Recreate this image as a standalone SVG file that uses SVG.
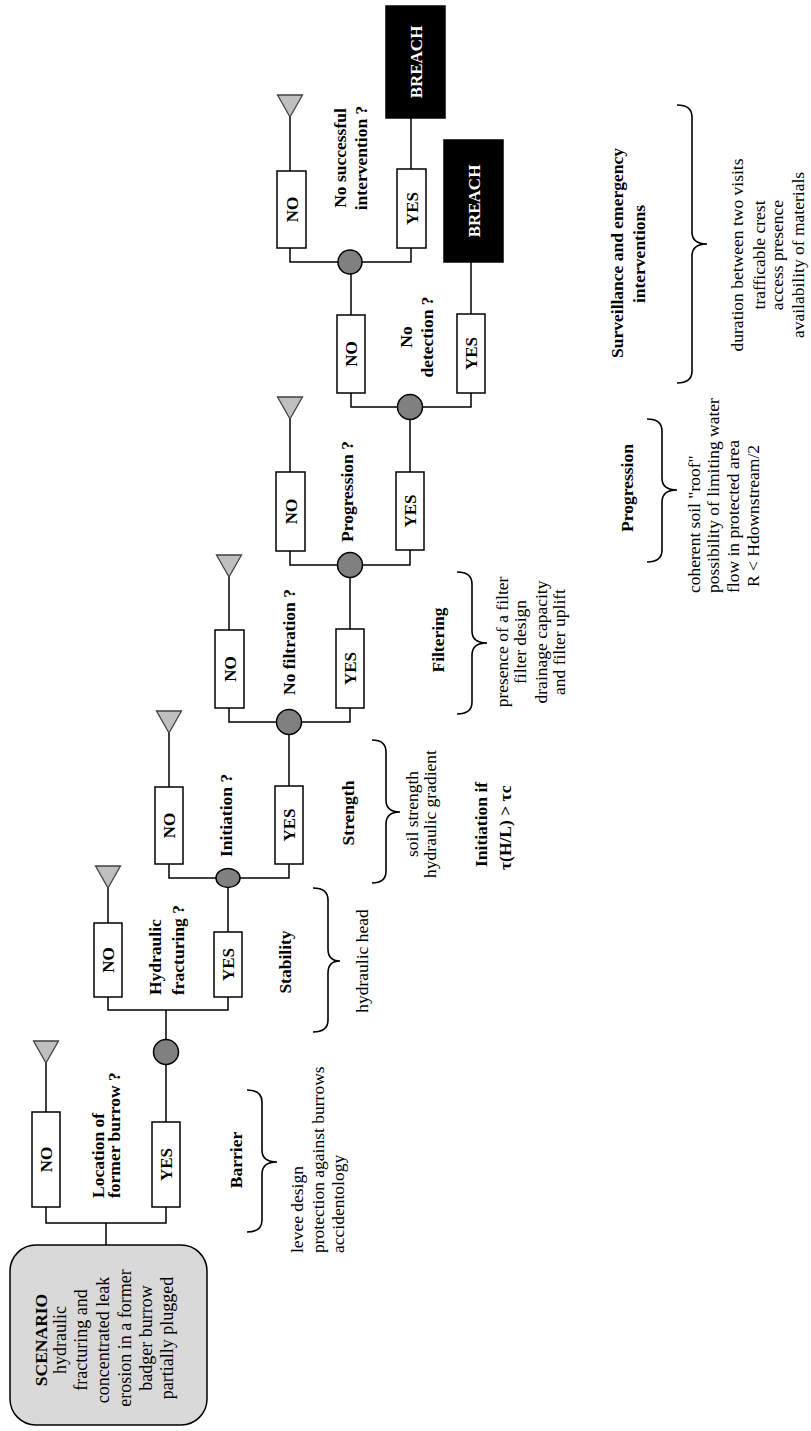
<svg xmlns="http://www.w3.org/2000/svg" width="811" height="1431" viewBox="0 0 811 1431">
<style>
text{font-family:"Liberation Serif","Times New Roman",serif;font-size:17.5px;fill:#000}
.b{font-weight:bold}
.m{text-anchor:middle}
.s{font-size:18px}
.lbl{font-weight:bold;font-size:17px;text-anchor:middle}
.w{fill:#fff}
.box{fill:#fff;stroke:#000;stroke-width:1.5}
.blk{fill:#000;stroke:#000;stroke-width:1.5}
.dot{fill:#808080;stroke:#000;stroke-width:1.5}
.tri{fill:#bfbfbf;stroke:#404040;stroke-width:1.3}
.ln{fill:none;stroke:#000;stroke-width:1.5}
.br{fill:none;stroke:#000;stroke-width:1.6}
</style>

<g id="connectors" class="ln">
<path d="M106,1245V1223M46,1207V1223H166V1207"/>
<path d="M46,1112V1063"/>
<path d="M166,1122V1040M166,1040V1010M108,997V1010H228V997"/>
<path d="M108,923V888"/>
<path d="M228,932V878M169,864V878H289V864"/>
<path d="M169,787V733"/>
<path d="M289,786V722M229,708V722H350V708"/>
<path d="M229,630V577"/>
<path d="M350,629V565M290,551V565H410V550"/>
<path d="M290,472V419"/>
<path d="M410,472V407M351,393V407H471V393"/>
<path d="M351,315V262M290,248V262H411V248"/>
<path d="M471,314V262"/>
<path d="M290,171V117"/>
<path d="M411,169V118"/>
</g>

<g id="scenario">
<rect x="10" y="1245" width="197" height="180" rx="26" fill="#d9d9d9" stroke="#000" stroke-width="1.5"/>
<text class="b m" font-size="20" transform="translate(47,1340) rotate(-90)">SCENARIO</text>
<text class="m s" transform="translate(66,1340) rotate(-90)">hydraulic</text>
<text class="m s" transform="translate(87,1340) rotate(-90)">fracturing and</text>
<text class="m s" transform="translate(109,1340) rotate(-90)">concentrated leak</text>
<text class="m s" transform="translate(131,1338) rotate(-90)">erosion in a former</text>
<text class="m s" transform="translate(152,1338) rotate(-90)">badger burrow</text>
<text class="m s" transform="translate(173,1338) rotate(-90)">partially plugged</text>
</g>

<g id="q1">
<text class="b" transform="translate(104,1198) rotate(-90)">Location of</text>
<text class="b" transform="translate(120,1198) rotate(-90)">former burrow ?</text>
</g>
<g id="no1"><rect class="box" x="32" y="1112" width="28" height="95"/><text class="lbl" transform="translate(52,1159.5) rotate(-90)">NO</text></g>
<g id="end1"><path class="tri" d="M33.5,1041H58.5L46,1063Z"/></g>
<g id="yes1"><rect class="box" x="152" y="1122" width="28" height="85"/><text class="lbl" transform="translate(172,1164.5) rotate(-90)">YES</text></g>
<g id="c1"><circle class="dot" cx="166" cy="1052" r="12.5"/></g>

<g id="q2">
<text class="b" transform="translate(161,995) rotate(-90)">Hydraulic</text>
<text class="b" transform="translate(184,995) rotate(-90)">fracturing ?</text>
</g>
<g id="no2"><rect class="box" x="94" y="923" width="28" height="74"/><text class="lbl" transform="translate(114,960) rotate(-90)">NO</text></g>
<g id="end2"><path class="tri" d="M95.5,866H120.5L108,888Z"/></g>
<g id="yes2"><rect class="box" x="214" y="932" width="28" height="65"/><text class="lbl" transform="translate(234,964.5) rotate(-90)">YES</text></g>
<g id="c2"><ellipse class="dot" cx="228" cy="878" rx="12" ry="9.5"/></g>

<g id="q3"><text class="b" transform="translate(232,857) rotate(-90)">Initiation ?</text></g>
<g id="no3"><rect class="box" x="155" y="787" width="28" height="77"/><text class="lbl" transform="translate(175,825.5) rotate(-90)">NO</text></g>
<g id="end3"><path class="tri" d="M156.5,711H181.5L169,733Z"/></g>
<g id="yes3"><rect class="box" x="275" y="786" width="28" height="78"/><text class="lbl" transform="translate(295,825) rotate(-90)">YES</text></g>
<g id="c3"><circle class="dot" cx="289" cy="722" r="12.5"/></g>

<g id="q4"><text class="b" transform="translate(295,695) rotate(-90)">No filtration ?</text></g>
<g id="no4"><rect class="box" x="215" y="630" width="29" height="78"/><text class="lbl" transform="translate(235.5,669) rotate(-90)">NO</text></g>
<g id="end4"><path class="tri" d="M216.5,555H241.5L229,577Z"/></g>
<g id="yes4"><rect class="box" x="336" y="629" width="28" height="79"/><text class="lbl" transform="translate(356,668.5) rotate(-90)">YES</text></g>
<g id="c4"><circle class="dot" cx="350" cy="565" r="12.5"/></g>

<g id="q5"><text class="b" transform="translate(353,542) rotate(-90)">Progression ?</text></g>
<g id="no5"><rect class="box" x="276" y="472" width="29" height="79"/><text class="lbl" transform="translate(296.5,511.5) rotate(-90)">NO</text></g>
<g id="end5"><path class="tri" d="M277.5,397H302.5L290,419Z"/></g>
<g id="yes5"><rect class="box" x="396" y="472" width="28" height="78"/><text class="lbl" transform="translate(416,511) rotate(-90)">YES</text></g>
<g id="c5"><circle class="dot" cx="410" cy="407" r="12.5"/></g>

<g id="q6">
<text class="b m" transform="translate(412,337) rotate(-90)">No</text>
<text class="b m" transform="translate(433,337) rotate(-90)">detection ?</text>
</g>
<g id="no6"><rect class="box" x="337" y="315" width="28" height="78"/><text class="lbl" transform="translate(357,354) rotate(-90)">NO</text></g>
<g id="yes6"><rect class="box" x="457" y="314" width="28" height="79"/><text class="lbl" transform="translate(477,353.5) rotate(-90)">YES</text></g>
<g id="breach2"><rect class="blk" x="444" y="140" width="59" height="122"/><text class="lbl w" transform="translate(479.5,201) rotate(-90)">BREACH</text></g>
<g id="c6"><circle class="dot" cx="350" cy="262" r="12"/></g>

<g id="q7">
<text class="b m" transform="translate(346,158) rotate(-90)">No successful</text>
<text class="b m" transform="translate(367,158) rotate(-90)">intervention ?</text>
</g>
<g id="no7"><rect class="box" x="277" y="171" width="29" height="77"/><text class="lbl" transform="translate(297.5,209.5) rotate(-90)">NO</text></g>
<g id="end7"><path class="tri" d="M277.5,95H302.5L290,117Z"/></g>
<g id="yes7"><rect class="box" x="397" y="169" width="29" height="79"/><text class="lbl" transform="translate(417.5,208.5) rotate(-90)">YES</text></g>
<g id="breach1"><rect class="blk" x="386" y="6" width="59" height="112"/><text class="lbl w" transform="translate(421.5,62) rotate(-90)">BREACH</text></g>

<g id="barrier">
<path class="br" d="M247,1090Q262,1090 262,1102V1150Q262,1162 277,1162Q262,1162 262,1174V1220Q262,1232 247,1232"/>
<text class="b m" transform="translate(242,1160) rotate(-90)">Barrier</text>
<text transform="translate(303,1253) rotate(-90)">levee design</text>
<text transform="translate(324,1253) rotate(-90)">protection against burrows</text>
<text transform="translate(344,1253) rotate(-90)">accidentology</text>
</g>

<g id="stability">
<path class="br" d="M313,888Q328,888 328,900V949Q328,961 340,961Q328,961 328,973V1020Q328,1032 313,1032"/>
<text class="b m" transform="translate(291,962) rotate(-90)">Stability</text>
<text class="m" transform="translate(368,961) rotate(-90)">hydraulic head</text>
</g>

<g id="strength">
<path class="br" d="M372,740Q386,740 386,752V800Q386,812 400,812Q386,812 386,824V871Q386,883 372,883"/>
<text class="b m" transform="translate(354,813) rotate(-90)">Strength</text>
<text class="m" transform="translate(418,814) rotate(-90)">soil strength</text>
<text class="m" transform="translate(436,814) rotate(-90)">hydraulic gradient</text>
<text class="b" transform="translate(487,867) rotate(-90)">Initiation if</text>
<text class="b" transform="translate(511,870) rotate(-90)">τ(H/L) &gt; τc</text>
</g>

<g id="filtering">
<path class="br" d="M457,572Q472,572 472,584V631Q472,643 487,643Q472,643 472,655V702Q472,714 457,714"/>
<text class="b m" transform="translate(444,640) rotate(-90)">Filtering</text>
<text class="m" transform="translate(508,642) rotate(-90)">presence of a filter</text>
<text class="m" transform="translate(526,642) rotate(-90)">filter design</text>
<text class="m" transform="translate(547,642) rotate(-90)">drainage capacity</text>
<text class="m" transform="translate(565,642) rotate(-90)">and filter uplift</text>
</g>

<g id="progression">
<path class="br" d="M647,419Q662,419 662,431V478Q662,490 677,490Q662,490 662,502V550Q662,562 647,562"/>
<text class="b m" transform="translate(633,488) rotate(-90)">Progression</text>
<text transform="translate(700,593) rotate(-90)">coherent soil "roof"</text>
<text transform="translate(719,593) rotate(-90)">possibility of limiting water</text>
<text transform="translate(739,593) rotate(-90)">flow in protected area</text>
<text transform="translate(759,587) rotate(-90)">R &lt; Hdownstream/2</text>
</g>

<g id="surveillance">
<path class="br" d="M677,105Q692,105 692,117V232Q692,244 707,244Q692,244 692,256V371Q692,383 677,383"/>
<text class="b m" transform="translate(623,253) rotate(-90)">Surveillance and emergency</text>
<text class="b m" transform="translate(645,254) rotate(-90)">interventions</text>
<text class="m" transform="translate(743,255) rotate(-90)">duration between two visits</text>
<text class="m" transform="translate(765,255) rotate(-90)">trafficable crest</text>
<text class="m" transform="translate(783,255) rotate(-90)">access presence</text>
<text class="m" transform="translate(804,255) rotate(-90)">availability of materials</text>
</g>
</svg>
